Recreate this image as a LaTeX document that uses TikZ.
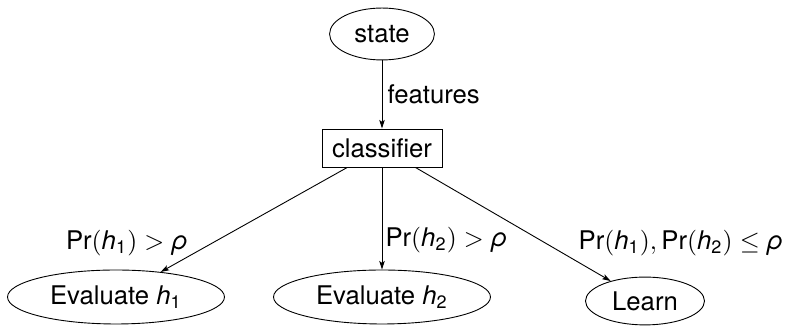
\documentclass[tikz,border=0pt]{standalone}
\usepackage{amsmath}
\usepackage{fontspec}
\setmainfont{TeX Gyre Heros}
\usetikzlibrary{shapes.geometric,arrows.meta}
% hypothesis h_i and its probability, set in sans
\newcommand{\hyp}[1]{\textit{h}_{\text{#1}}}
\newcommand{\prob}[1]{\text{Pr}(\hyp{#1})}
\newcommand{\thr}{\textit{ρ}}
\begin{document}
\begin{tikzpicture}[x=0.389pt, y=-0.389pt, font=\fontsize{10}{12}\selectfont,
  oval/.style={draw, ellipse, inner sep=0pt, line width=0.35pt},
  boxnode/.style={draw, rectangle, inner sep=0pt, line width=0.35pt},
  arr/.style={-{Stealth[length=3.3pt,width=2.1pt,inset=0.7pt]}, line width=0.35pt},
  lbl/.style={inner sep=0pt}]
\useasboundingbox (0,0) rectangle (795,326);

\node[oval, minimum width=40.8pt, minimum height=20.2pt] (state) at (382,34) {state};
\node[boxnode, minimum width=46.7pt, minimum height=14.8pt] (cls) at (382,148) {classifier};
\node[oval, minimum width=84.4pt, minimum height=21pt] (e1) at (116,297) {Evaluate $\hyp{1}$};
\node[oval, minimum width=84.4pt, minimum height=21pt] (e2) at (382,297) {Evaluate $\hyp{2}$};
\node[oval, minimum width=46.3pt, minimum height=18.6pt] (learn) at (645,301) {Learn};

\draw[arr] (state) -- node[right, inner sep=2pt] (feat) {features} (cls);
\draw[arr] (cls) -- (e1);
\draw[arr] (cls) -- (e2);
\draw[arr] (cls) -- (learn);

\node[lbl] (l1) at (127,243) {$\prob{1} > \thr$};
\node[lbl, anchor=west] (l2) at (385,240) {$\prob{2} > \thr$};
\node[lbl] (l3) at (681,243) {$\prob{1}, \prob{2} \leq \thr$};
\end{tikzpicture}
\end{document}
